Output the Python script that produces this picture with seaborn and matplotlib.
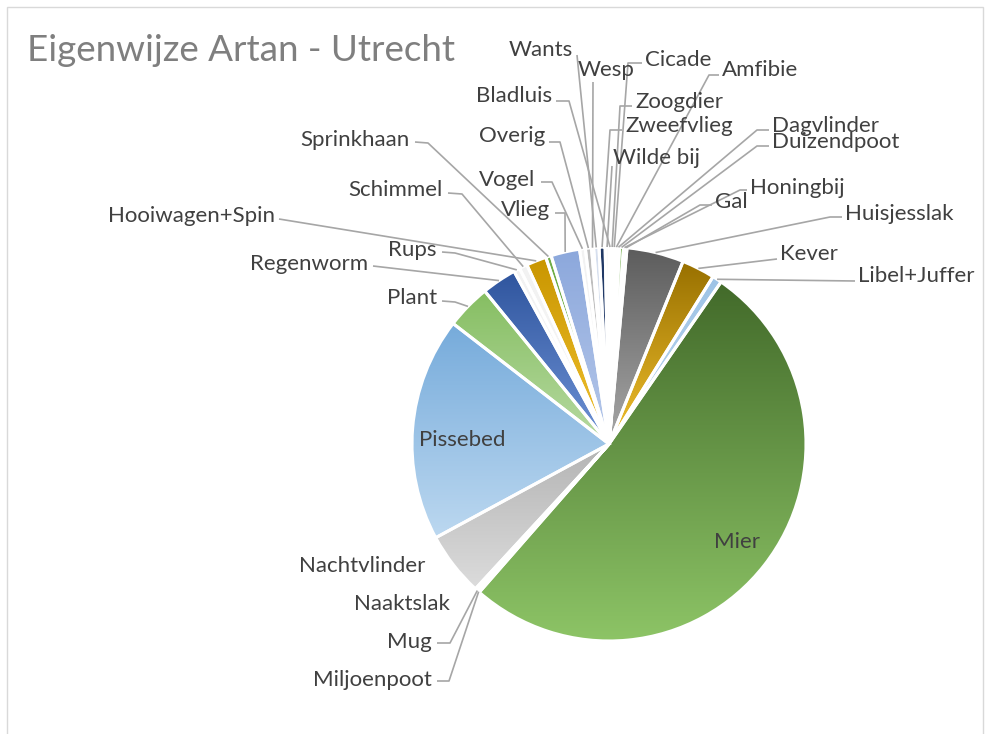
import numpy as np
import matplotlib
matplotlib.use("Agg")
import matplotlib.pyplot as plt
import seaborn as sns

# ---------------------------------------------------------------------------
# DATA (aandeel in %, afgelezen van de taartdiagram, met de klok mee vanaf 12 uur)
# ---------------------------------------------------------------------------
soorten = [
    "Bladluis", "Zoogdier", "Cicade", "Amfibie", "Dagvlinder", "Duizendpoot",
    "Honingbij", "Gal", "Huisjesslak", "Kever", "Libel+Juffer", "Mier",
    "Miljoenpoot", "Mug", "Naaktslak", "Nachtvlinder", "Pissebed", "Plant",
    "Regenworm", "Rups", "Schimmel", "Hooiwagen+Spin", "Sprinkhaan", "Vlieg",
    "Vogel", "Overig", "Wesp", "Wants", "Zweefvlieg", "Wilde bij",
]
aandeel = [
    0.17, 0.17, 0.17, 0.17, 0.17, 0.33,
    0.14, 0.14, 4.67, 2.72, 0.78, 51.81,
    0.14, 0.14, 0.14, 5.25, 18.36, 3.67,
    2.86, 0.50, 0.66, 1.64, 0.45, 2.36,
    0.47, 0.50, 0.17, 0.44, 0.50, 0.31,
]
titel = "Eigenwijze Artan - Utrecht"

# ---------------------------------------------------------------------------
# STIJL: verloop per segment (boven, onder)
# ---------------------------------------------------------------------------
bleek = ("#F2F2F2", "#F7F7F7")
kleuren = {
    "Huisjesslak": ("#5C5C5C", "#A8A8A8"),
    "Kever": ("#987000", "#F2C12E"),
    "Libel+Juffer": ("#9DC3E6", "#BDD7EE"),
    "Mier": ("#426A2A", "#8DC466"),
    "Nachtvlinder": ("#B4B4B4", "#DCDCDC"),
    "Pissebed": ("#76ABDB", "#BCD8F0"),
    "Plant": ("#86BE62", "#B7DAA2"),
    "Regenworm": ("#2F559E", "#6F93D6"),
    "Hooiwagen+Spin": ("#C99600", "#F2C230"),
    "Sprinkhaan": ("#70AD47", "#70AD47"),
    "Vlieg": ("#8CA8DC", "#B6C8EA"),
    "Overig": ("#BDBDBD", "#C8C8C8"),
    "Wants": ("#D6DFEE", "#DDE5F2"),
    "Zweefvlieg": ("#203864", "#2A4478"),
    "Duizendpoot": ("#70AD47", "#7DB857"),
}

# label: (x, y midden, uitlijning, hulplijn-punten) in beeldpixels
label_pos = {
    "Hooiwagen+Spin": (275, 215, "right", [(279, 219)]),
    "Regenworm": (368, 262, "right", [(373, 266)]),
    "Rups": (437, 248, "right", [(442, 252), (455, 253)]),
    "Schimmel": (443, 188, "right", [(448, 193), (462, 194)]),
    "Sprinkhaan": (410, 138, "right", [(415, 142), (428, 143)]),
    "Plant": (437, 296, "right", [(442, 301), (455, 302)]),
    "Vlieg": (550, 208, "right", [(555, 213), (565, 213)]),
    "Vogel": (535, 178, "right", [(541, 182), (552, 182)]),
    "Overig": (545, 135, "right", [(549, 142), (560, 142)]),
    "Bladluis": (552, 95, "right", [(556, 101), (569, 101)]),
    "Wants": (573, 48, "right", [(577, 55)]),
    "Nachtvlinder": (425, 565, "right", None),
    "Naaktslak": (450, 603, "right", None),
    "Mug": (432, 640, "right", [(437, 643), (450, 643)]),
    "Miljoenpoot": (432, 678, "right", [(437, 681), (449, 681)]),
    "Wesp": (578, 68, "left", [(593, 82)]),
    "Cicade": (645, 58, "left", [(642, 63), (628, 63)]),
    "Amfibie": (722, 68, "left", [(719, 75), (709, 75)]),
    "Zoogdier": (635, 100, "left", [(632, 106), (620, 106)]),
    "Zweefvlieg": (625, 125, "left", [(622, 130), (610, 130)]),
    "Wilde bij": (613, 157, "left", [(612, 166)]),
    "Dagvlinder": (772, 125, "left", [(769, 130), (757, 130)]),
    "Duizendpoot": (772, 140, "left", [(769, 146), (757, 146)]),
    "Honingbij": (750, 187, "left", [(747, 190), (740, 190)]),
    "Gal": (715, 200, "left", [(712, 205), (700, 205)]),
    "Huisjesslak": (845, 212, "left", [(842, 217), (830, 217)]),
    "Kever": (780, 253, "left", [(777, 259)]),
    "Libel+Juffer": (858, 275, "left", [(855, 281)]),
    "Mier": (737, 541, "center", None),
    "Pissebed": (462, 438, "center", None),
}

# ---------------------------------------------------------------------------
# FIGUUR
# ---------------------------------------------------------------------------
sns.set_theme(style="white")
plt.rcParams["font.family"] = ["Lato", "DejaVu Sans"]

W, H = 986, 734
fig = plt.figure(figsize=(W / 100, H / 100), dpi=100)
ax = fig.add_axes([0, 0, 1, 1])
cx, cy, R = 609, H - 444, 197

wedges, _ = ax.pie(
    aandeel, startangle=90, counterclock=False, center=(cx, cy), radius=R,
    wedgeprops=dict(edgecolor="white", linewidth=2.2, facecolor="none"),
)

verloop = np.linspace(0, 1, 256).reshape(-1, 1)
for w, naam in zip(wedges, soorten):
    boven, onder = kleuren.get(naam, bleek)
    cmap = sns.blend_palette([boven, onder], n_colors=256, as_cmap=True)
    x0, y0, x1, y1 = w.get_path().get_extents().extents
    im = ax.imshow(verloop, cmap=cmap, extent=(x0, x1, y0, y1), origin="upper",
                   aspect="auto", interpolation="bilinear", zorder=1)
    im.set_clip_path(w)
    w.set_zorder(2)

# labels en hulplijnen
for w, naam in zip(wedges, soorten):
    tx, ty, ha, pad = label_pos[naam]
    if pad:
        hoek = np.deg2rad((w.theta1 + w.theta2) / 2)
        rx, ry = cx + R * np.cos(hoek), cy + R * np.sin(hoek)
        xs = [p[0] for p in pad] + [rx]
        ys = [H - p[1] for p in pad] + [ry]
        ax.plot(xs, ys, color="#A6A6A6", lw=1.2, zorder=3, solid_capstyle="butt")
    ax.text(tx, H - (ty + 7.5), naam, ha=ha, va="baseline", fontsize=16,
            color="#404040", zorder=4)

ax.text(27, H - 61, titel, fontsize=26.5, color="#7F7F7F", fontweight="normal",
        va="baseline", ha="left")

ax.add_patch(plt.Rectangle((6.5, -10), 976, H - 6.5 + 10, fill=False,
                           edgecolor="#D9D9D9", lw=1, zorder=0))

ax.set_xlim(0, W)
ax.set_ylim(0, H)
ax.set_aspect("auto")
ax.axis("off")

fig.savefig("out.png", dpi=100, facecolor="white")
plt.close(fig)
